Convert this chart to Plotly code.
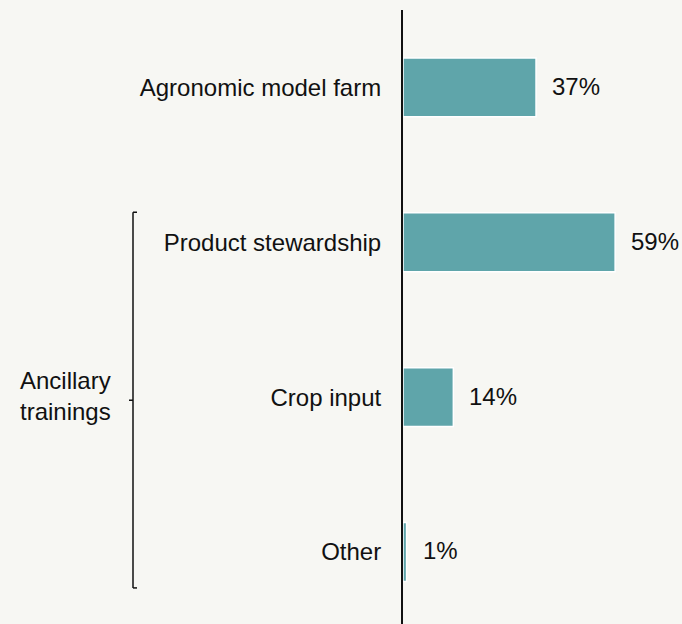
import plotly.graph_objects as go

categories = ["Agronomic model farm", "Product stewardship", "Crop input", "Other"]
values = [37, 59, 14, 1]
value_labels = ["37%", "59%", "14%", "1%"]
group_label = "Ancillary<br>trainings"

BG = "#f7f7f3"
BAR = "#5fa5aa"
FONT = "Liberation Sans, Arial, Helvetica, sans-serif"
FS = 24

fig = go.Figure()
fig.add_trace(go.Bar(
    y=categories, x=values, orientation="h",
    marker=dict(color=BAR, line=dict(color="white", width=1.5)),
    width=0.38, hoverinfo="skip",
))

for c, v, t in zip(categories, values, value_labels):
    fig.add_annotation(x=v, y=c, xref="x", yref="y", text=t, showarrow=False,
                       xanchor="left", yanchor="middle", xshift=14, yshift=1,
                       font=dict(size=FS, color="#111111", family=FONT))

# bracket for grouped categories
bx = (133 - 403) / 279
fig.add_shape(type="line", xref="paper", yref="y", x0=bx, x1=bx, y0=0.806, y1=3.232,
              line=dict(color="#111111", width=1.5))
fig.add_shape(type="line", xref="paper", yref="y", x0=bx, x1=bx + 4 / 279, y0=0.806, y1=0.806,
              line=dict(color="#111111", width=1.5))
fig.add_shape(type="line", xref="paper", yref="y", x0=bx, x1=bx + 4 / 279, y0=3.232, y1=3.232,
              line=dict(color="#111111", width=1.5))
fig.add_shape(type="line", xref="paper", yref="y", x0=bx - 4 / 279, x1=bx, y0=2.02, y1=2.02,
              line=dict(color="#111111", width=1.5))
fig.add_annotation(x=(18 - 403) / 279, y=2.02, xref="paper", yref="y", text=group_label,
                   showarrow=False, xanchor="left", yanchor="middle", align="left",
                   yshift=4,
                   font=dict(size=FS, color="#111111", family=FONT))

fig.update_layout(
    width=682, height=624,
    margin=dict(l=403, r=0, t=10, b=0),
    paper_bgcolor=BG, plot_bgcolor=BG,
    showlegend=False,
    font=dict(family=FONT, size=FS, color="#111111"),
    xaxis=dict(range=[0, 77.6], showgrid=False, zeroline=False, showticklabels=False,
               showline=False, fixedrange=True),
    yaxis=dict(type="category", categoryorder="array", categoryarray=categories,
               range=[3.465, -0.5], showgrid=False, zeroline=False,
               showline=True, linecolor="#111111", linewidth=2,
               ticks="", ticklabelstandoff=15,
               tickfont=dict(size=FS, color="#111111", family=FONT)),
)

fig.write_html("out.html", config={"displayModeBar": False},
               post_script="document.body.style.margin='0';document.body.style.background='" + BG + "';")
